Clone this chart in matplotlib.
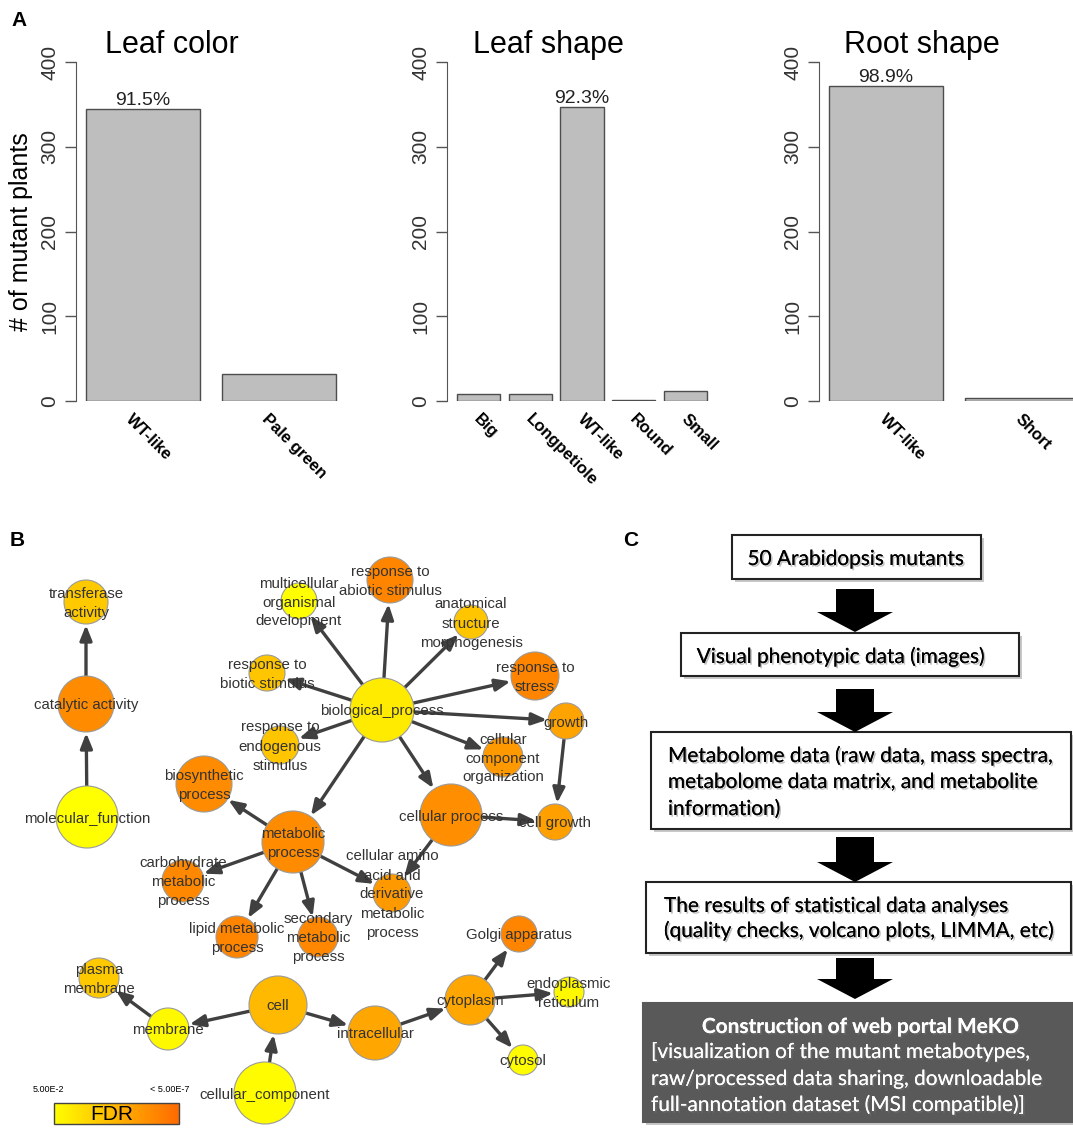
import numpy as np
import matplotlib
matplotlib.use("Agg")
import matplotlib.pyplot as plt
from matplotlib.patches import Circle, Rectangle, FancyArrowPatch, FancyArrow, ArrowStyle
from matplotlib.colors import LinearSegmentedColormap
import matplotlib.patheffects as pe

plt.rcParams['font.family'] = ['Liberation Sans', 'DejaVu Sans']

W, H = 1073, 1129

# A: phenotype counts of the mutant plants
leaf_color_labels = ["WT-like", "Pale green"]
leaf_color_counts = [344, 32]
leaf_shape_labels = ["Big", "Longpetiole", "WT-like", "Round", "Small"]
leaf_shape_counts = [8, 8, 347, 1, 12]
root_shape_labels = ["WT-like", "Short"]
root_shape_counts = [372, 4]
panel_titles = ["Leaf color", "Leaf shape", "Root shape"]
y_ticks = [0, 100, 200, 300, 400]

# B: enriched GO terms (FDR level 0 = 5e-2 ... 1 = <5e-7)
go_terms = ["molecular_function", "catalytic activity", "transferase\nactivity",
            "biological_process", "multicellular\norganismal\ndevelopment",
            "response to\nabiotic stimulus", "anatomical\nstructure\nmorphogenesis",
            "response to\nbiotic stimulus", "response to\nstress", "growth",
            "response to\nendogenous\nstimulus", "cellular\ncomponent\norganization",
            "biosynthetic\nprocess", "metabolic\nprocess", "cellular process",
            "cell growth", "carbohydrate\nmetabolic\nprocess",
            "cellular amino\nacid and\nderivative\nmetabolic\nprocess",
            "lipid metabolic\nprocess", "secondary\nmetabolic\nprocess",
            "Golgi apparatus", "cellular_component", "cell", "membrane",
            "plasma\nmembrane", "intracellular", "cytoplasm",
            "endoplasmic\nreticulum", "cytosol"]
go_fdr_level = [0.0, 0.78, 0.36, 0.14, 0.0, 0.82, 0.38, 0.38, 0.82, 0.62,
                0.38, 0.68, 0.78, 0.78, 0.76, 0.64, 0.8, 0.68, 0.82, 0.8,
                0.82, 0.02, 0.47, 0.04, 0.36, 0.6, 0.6, 0.04, 0.02]
go_edges = [(0, 1), (1, 2),
            (3, 4), (3, 5), (3, 6), (3, 7), (3, 8), (3, 9), (3, 10), (3, 11),
            (3, 14), (3, 13), (9, 15), (14, 15), (14, 17),
            (13, 12), (13, 16), (13, 18), (13, 19), (13, 17),
            (21, 22), (22, 23), (23, 24), (22, 25), (25, 26),
            (26, 20), (26, 27), (26, 28)]

# network layout (pixel space of the lower left panel)
go_x = [87, 86, 86, 382, 299, 390, 471, 267, 535, 566, 280, 503, 204, 293, 451,
        555, 183, 392, 237, 318, 519, 265, 278, 168, 99, 375, 470, 569, 523]
go_y = [817, 704, 602, 710, 601, 580, 622, 673, 676, 721, 745, 757, 784, 842, 815,
        822, 881, 893, 937, 937, 934, 1093, 1005, 1029, 978, 1033, 1000, 992, 1060]
go_r = [31, 28, 22, 32, 18, 23, 17, 18, 24, 18, 19, 20, 28, 31, 31,
        18, 21, 19, 21, 20, 18, 31, 29, 21, 20, 27, 25, 15, 15]

# C: workflow steps
flow_steps = [
    ["50 Arabidopsis mutants"],
    ["Visual phenotypic data (images)"],
    ["Metabolome data (raw data, mass spectra,",
     "metabolome data matrix, and metabolite",
     "information)"],
    ["The results of statistical data analyses",
     "(quality checks, volcano plots, LIMMA, etc)"],
    ["Construction of web portal MeKO",
     "[visualization of the mutant metabotypes,",
     "raw/processed data sharing, downloadable",
     "full-annotation dataset (MSI compatible)]"],
]

fig = plt.figure(figsize=(W / 100, H / 100), dpi=100)
canvas = fig.add_axes([0, 0, 1, 1])
canvas.axis('off')

# ---------- A: bar charts ----------
bar_panels = [(leaf_color_labels, leaf_color_counts, 76, 172, -15),
              (leaf_shape_labels, leaf_shape_counts, 447, 548, -2),
              (root_shape_labels, root_shape_counts, 819, 922, -4)]

for i, (labels, counts, left, title_x, dx) in enumerate(bar_panels):
    ax = fig.add_axes([left / W, 1 - 401 / H, 270 / W, 339 / H])
    ax.patch.set_alpha(0)
    n = len(counts)
    pos = 0.7 + 1.2 * np.arange(n)
    ax.bar(pos, counts, width=1.0, color='#bebebe', edgecolor='#4d4d4d', linewidth=1.0)
    span = 1.2 * n - 0.2
    ax.set_xlim(0.2 - 0.04 * span, 1.2 * n + 0.04 * span)
    ax.set_ylim(0, 400)
    for s in ('top', 'right', 'bottom'):
        ax.spines[s].set_visible(False)
    ax.spines['left'].set_color('#555555')
    ax.set_xticks([])
    ax.set_yticks(y_ticks)
    ax.set_yticklabels([str(t) for t in y_ticks], rotation=90, va='center')
    ax.tick_params(axis='y', length=8, width=1, color='#555555',
                   labelsize=15, labelcolor='#333333', pad=4)

    for p, lab in zip(pos, labels):
        ax.annotate(lab, xy=(p, 0), xycoords=('data', 'axes fraction'),
                    xytext=(dx * 0.72, -16 * 0.72), textcoords='offset points',
                    rotation=-45, rotation_mode='anchor', ha='left', va='center',
                    fontsize=12, fontweight='bold', annotation_clip=False)

    k = int(np.argmax(counts))
    ax.annotate(f"{100 * counts[k] / sum(counts):.1f}%", xy=(pos[k], counts[k]),
                xytext=(0, 3), textcoords='offset points', ha='center',
                va='baseline', fontsize=14, color='#222222')
    fig.text(title_x / W, 1 - 53 / H, panel_titles[i], ha='center',
             va='baseline', fontsize=22)

fig.text(21 / W, 1 - 232 / H, "# of mutant plants", rotation=90,
         ha='center', va='center', fontsize=18)

# ---------- B: GO network ----------
cmap = LinearSegmentedColormap.from_list('fdr', ['#ffff00', '#ff6a00'])
head = ArrowStyle('-|>', head_length=0.75, head_width=0.3)

for a, b in go_edges:
    x0, y0, r0 = go_x[a], go_y[a], go_r[a]
    x1, y1, r1 = go_x[b], go_y[b], go_r[b]
    d = np.hypot(x1 - x0, y1 - y0)
    ux, uy = (x1 - x0) / d, (y1 - y0) / d
    arr = FancyArrowPatch((x0 + ux * r0, y0 + uy * r0),
                          (x1 - ux * (r1 + 1), y1 - uy * (r1 + 1)),
                          arrowstyle=head, mutation_scale=12, lw=2.4,
                          color='#404040', shrinkA=0, shrinkB=0, zorder=2)
    canvas.add_patch(arr)

for term, x, y, r, lvl in zip(go_terms, go_x, go_y, go_r, go_fdr_level):
    canvas.add_patch(Circle((x, y), r, fc=cmap(lvl), ec='#9a9a9a', lw=0.8, zorder=3))
    lines = term.split('\n')
    for j, line in enumerate(lines):
        canvas.text(x, y + (j - (len(lines) - 1) / 2) * 19, line, ha='center',
                    va='center_baseline', fontsize=10.8, color='#333333', zorder=4)

# FDR colour key
grad = np.linspace(0, 1, 256).reshape(1, -1)
canvas.imshow(grad, cmap=cmap, extent=(54, 179, 1124, 1103), aspect='auto', zorder=3)
canvas.add_patch(Rectangle((54, 1103), 125, 21, fill=False, ec='#444444', lw=1, zorder=4))
canvas.text(112, 1114, "FDR", ha='center', va='center', fontsize=15, zorder=5)
canvas.text(33, 1089, "5.00E-2", ha='left', va='center', fontsize=6.5)
canvas.text(150, 1089, "< 5.00E-7", ha='left', va='center', fontsize=6.5)

# ---------- C: workflow ----------
boxes = [(732, 535, 981, 579), (681, 633, 1019, 676), (651, 732, 1071, 829),
         (646, 882, 1071, 953), (643, 1003, 1095, 1122)]
baselines = [[565], [663], [762, 788, 815], [912, 937], [1033, 1058, 1085, 1111]]
text_x = [(856, 'center'), (841, 'center'), (668, 'left'), (664, 'left'), (651, 'left')]
arrows_y = [(589, 632), (689, 732), (837, 882), (958, 999)]

shadow = [pe.withSimplePatchShadow(offset=(1.2, -1.2), shadow_rgbFace='#777777', alpha=0.45),
          pe.Normal()]

for i, (x0, y0, x1, y1) in enumerate(boxes):
    dark = i == len(boxes) - 1
    canvas.add_patch(Rectangle((x0 + 3, y0 + 3), x1 - x0, y1 - y0,
                               fc='#c8c8c8', ec='none', zorder=1))
    canvas.add_patch(Rectangle((x0, y0), x1 - x0, y1 - y0,
                               fc='#595959' if dark else 'white',
                               ec='#595959' if dark else '#222222', lw=1.5, zorder=2))
    tx, ha = text_x[i]
    for j, (line, yb) in enumerate(zip(flow_steps[i], baselines[i])):
        if dark and j == 0:
            canvas.text(861, yb, line, ha='center', va='baseline', fontsize=15,
                        fontweight='bold', color='white', family='Lato',
                        path_effects=shadow, zorder=5)
        else:
            canvas.text(tx, yb, line, ha=ha, va='baseline', fontsize=15,
                        color='white' if dark else 'black', family='Lato',
                        path_effects=shadow, zorder=5)

for ys, ye in arrows_y:
    canvas.add_patch(FancyArrow(855, ys, 0, ye - ys, width=38, head_width=76,
                                head_length=20, length_includes_head=True,
                                fc='black', ec='black', lw=0, zorder=3))

# panel letters
for letter, x, y in [("A", 11, 21), ("B", 10, 541), ("C", 623, 541)]:
    canvas.text(x, y, letter, ha='left', va='center', fontsize=15, fontweight='bold')

canvas.set_xlim(0, W)
canvas.set_ylim(H, 0)

fig.savefig("out.png", dpi=100)
